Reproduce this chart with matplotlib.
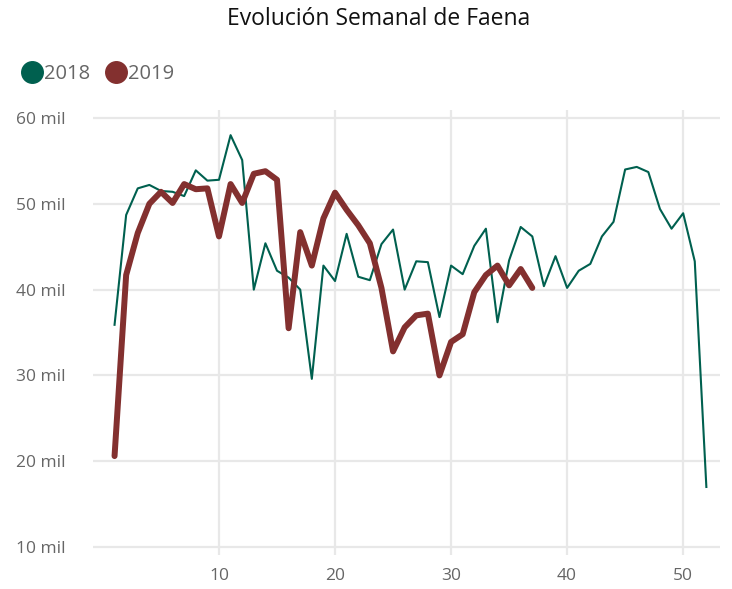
import numpy as np
import matplotlib
matplotlib.use("Agg")
import matplotlib.pyplot as plt
from matplotlib.lines import Line2D

plt.rcParams['font.family'] = ['Open Sans', 'DejaVu Sans']

# faena semanal, miles de cabezas
semanas_2018 = np.arange(1, 53)
faena_2018 = [35.9, 48.7, 51.8, 52.2, 51.5, 51.4, 50.9, 53.9, 52.7, 52.8,
              58.0, 55.1, 40.0, 45.4, 42.2, 41.4, 40.0, 29.6, 42.8, 41.0,
              46.5, 41.5, 41.1, 45.3, 47.0, 40.0, 43.3, 43.2, 36.8, 42.8,
              41.8, 45.1, 47.1, 36.2, 43.4, 47.3, 46.2, 40.4, 43.9, 40.2,
              42.2, 43.0, 46.2, 47.9, 54.0, 54.3, 53.7, 49.4, 47.1, 48.9,
              43.3, 17.0]

semanas_2019 = np.arange(1, 38)
faena_2019 = [20.6, 41.7, 46.6, 50.0, 51.4, 50.1, 52.3, 51.7, 51.8, 46.2,
              52.3, 50.1, 53.5, 53.8, 52.8, 35.5, 46.7, 42.8, 48.3, 51.3,
              49.3, 47.5, 45.4, 40.2, 32.8, 35.6, 37.0, 37.2, 30.0, 33.9,
              34.8, 39.7, 41.7, 42.8, 40.5, 42.4, 40.2]

y_ticks = [10, 20, 30, 40, 50, 60]
y_labels = [f"{v} mil" for v in y_ticks]
x_ticks = [10, 20, 30, 40, 50]

verde = '#00604F'
rojo = '#83302F'

fig = plt.figure(figsize=(7.32, 5.89), dpi=100)
ax = fig.add_axes([0.127, 0.0577, 0.857, 0.7555])

ax.plot(semanas_2018, faena_2018, color=verde, lw=1.5, zorder=3)
ax.plot(semanas_2019, faena_2019, color=rojo, lw=4.3, zorder=4,
        solid_joinstyle='round', solid_capstyle='round')

ax.set_xlim(-0.86, 53.2)
ax.set_ylim(9.07, 60.93)
ax.set_yticks(y_ticks)
ax.set_yticklabels(y_labels)
ax.set_xticks(x_ticks)

ax.grid(True, color='#e8e8e8', lw=1.6)
ax.set_axisbelow(True)
for s in ax.spines.values():
    s.set_visible(False)
ax.tick_params(length=0, colors='#666666', labelsize=12.5)
ax.tick_params(axis='y', pad=20)
ax.tick_params(axis='x', pad=9)

fig.text(0.517, 0.968, 'Evolución Semanal de Faena', ha='center', va='center',
         fontsize=16.5, color='#111111')

handles = [Line2D([], [], marker='o', ls='', color=verde, markersize=15.5),
           Line2D([], [], marker='o', ls='', color=rojo, markersize=15.5)]
fig.legend(handles, ['2018', '2019'], loc='center left',
           bbox_to_anchor=(0.003, 0.874), ncol=2, frameon=False,
           handletextpad=0.0, columnspacing=0.65, handlelength=1.2,
           fontsize=14.5, labelcolor='#666666')

fig.savefig('out.png', dpi=100)
